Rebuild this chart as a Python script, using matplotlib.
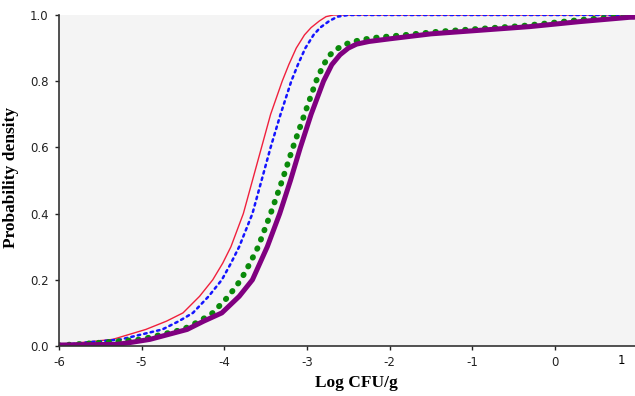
import numpy as np
import matplotlib.pyplot as plt

# values (log CFU/g vs cumulative probability)
red_x = [-6.0, -5.75, -5.35, -4.95, -4.7, -4.5, -4.3, -4.14, -4.02, -3.92,
         -3.77, -3.66, -3.55, -3.44, -3.3, -3.22, -3.13, -3.03, -2.95, -2.85,
         -2.77, -2.68, 1.2]
red_y = [0.002, 0.01, 0.02, 0.05, 0.075, 0.1, 0.15, 0.2, 0.25, 0.3,
         0.4, 0.5, 0.6, 0.7, 0.8, 0.85, 0.9, 0.94, 0.962, 0.982,
         0.995, 1.0, 1.0]

blue_x = [-6.0, -5.7, -5.25, -4.75, -4.55, -4.38, -4.19, -4.03, -3.92, -3.82,
          -3.66, -3.55, -3.44, -3.32, -3.19, -3.11, -3.02, -2.92, -2.84, -2.73,
          -2.63, -2.5, 1.2]
blue_y = [0.002, 0.01, 0.02, 0.05, 0.075, 0.1, 0.15, 0.2, 0.25, 0.3,
          0.4, 0.5, 0.6, 0.7, 0.8, 0.85, 0.9, 0.94, 0.962, 0.982,
          0.995, 1.0, 1.0]

green_x = [-6.0, -5.5, -5.0, -4.5, -4.3, -4.14, -3.95, -3.8, -3.69, -3.59,
           -3.44, -3.3, -3.17, -3.03, -2.89, -2.8, -2.72, -2.62, -2.5, -2.35,
           -2.15, -1.8, -1.4, -0.4, 0.3, 0.8, 1.2]
green_y = [0.002, 0.01, 0.02, 0.05, 0.075, 0.1, 0.15, 0.2, 0.25, 0.3,
           0.4, 0.5, 0.6, 0.7, 0.8, 0.85, 0.88, 0.9, 0.915, 0.925,
           0.932, 0.94, 0.95, 0.967, 0.985, 0.995, 0.998]

purple_x = [-6.0, -5.3, -5.15, -4.9, -4.45, -4.25, -4.03, -3.82, -3.66, -3.57,
            -3.48, -3.33, -3.2, -3.08, -2.95, -2.8, -2.7, -2.6, -2.5, -2.4,
            -2.25, -2.0, -1.5, -0.3, 0.3, 0.9, 1.2]
purple_y = [0.003, 0.005, 0.01, 0.02, 0.05, 0.075, 0.1, 0.15, 0.2, 0.25,
            0.3, 0.4, 0.5, 0.6, 0.7, 0.8, 0.85, 0.88, 0.9, 0.912,
            0.92, 0.928, 0.943, 0.965, 0.98, 0.993, 0.995]

xticks = [-6, -5, -4, -3, -2, -1, 0]

plt.rcParams['font.family'] = 'DejaVu Sans'

fig = plt.figure(figsize=(6.35, 3.96), dpi=100)
ax = fig.add_axes([59/635, 50/396, 576/635, 331/396])
ax.set_facecolor('#f4f4f4')

ax.plot(red_x, red_y, '-', color='#f0203c', linewidth=1.0)
ax.plot(blue_x, blue_y, color='#1414ff', linewidth=1.8, linestyle=':',
        dash_capstyle='round')
ax.plot(green_x, green_y, color='#0a8a0a', linewidth=4.2,
        linestyle=(0, (0.1, 1.6)), dash_capstyle='round')
ax.plot(purple_x, purple_y, '-', color='#800080', linewidth=3.6)

ax.set_xlim(-6, 0.968)
ax.set_ylim(0, 1)
ax.set_xticks(xticks)
ax.set_xticklabels([str(t) for t in xticks])
# the "1" label sits at the cut-off right edge without a tick mark
ax.set_xticks([0.805], ['1'], minor=True)
ax.tick_params(axis='x', which='minor', length=0, pad=5.5, labelsize=8.5)
ax.set_yticks([0, 0.2, 0.4, 0.6, 0.8, 1.0])
ax.set_yticklabels(['0.0', '0.2', '0.4', '0.6', '0.8', '1.0'])
ax.tick_params(axis='both', which='major', direction='out', length=3,
               width=1, labelsize=8.5, pad=4.5, colors='#222222')
for s in ['top', 'right']:
    ax.spines[s].set_visible(False)
for s in ['left', 'bottom']:
    ax.spines[s].set_color('#333333')
    ax.spines[s].set_linewidth(1.2)

ax.set_xlabel('Log CFU/g', family='Liberation Serif', fontweight='bold',
              fontsize=12.5)
ax.xaxis.set_label_coords(0.516, -0.088)
ax.set_ylabel('Probability density', family='Liberation Serif',
              fontweight='bold', fontsize=12.5)
ax.yaxis.set_label_coords(-0.07, 0.51)

fig.savefig('out.png', dpi=100)
